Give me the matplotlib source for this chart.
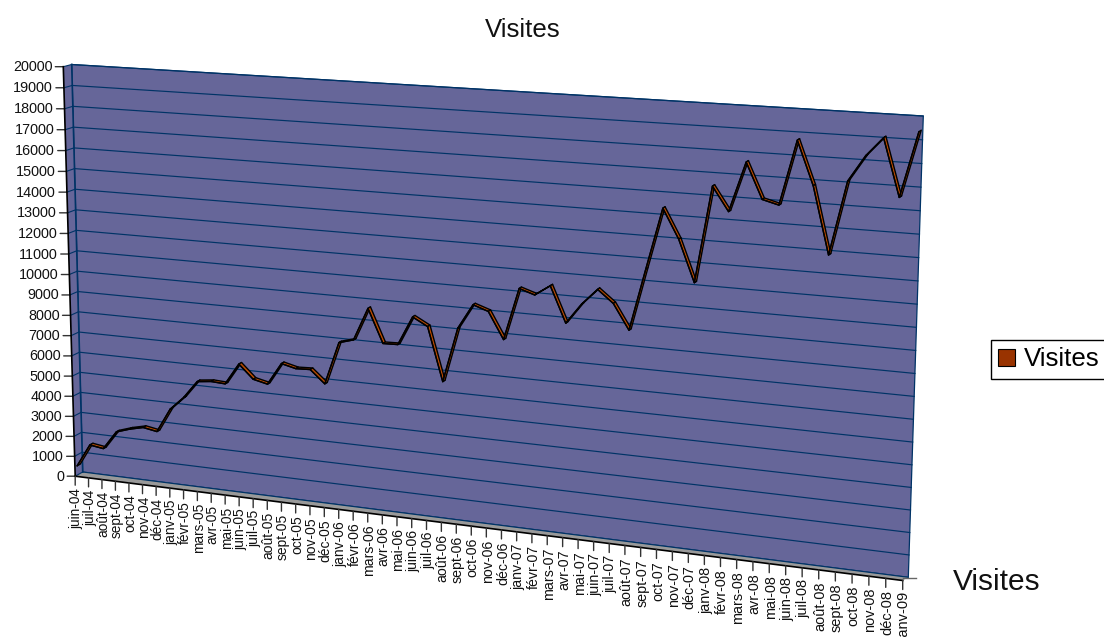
import numpy as np
import matplotlib
matplotlib.use('Agg')
import matplotlib.pyplot as plt
from matplotlib.collections import PolyCollection
from matplotlib.patches import Patch, Polygon
from matplotlib.transforms import Transform, IdentityTransform

plt.rcParams['font.family'] = ['Liberation Sans', 'DejaVu Sans']

months = ['juin-04','juil-04','août-04','sept-04','oct-04','nov-04','déc-04',
          'janv-05','févr-05','mars-05','avr-05','mai-05','juin-05','juil-05','août-05','sept-05','oct-05','nov-05','déc-05',
          'janv-06','févr-06','mars-06','avr-06','mai-06','juin-06','juil-06','août-06','sept-06','oct-06','nov-06','déc-06',
          'janv-07','févr-07','mars-07','avr-07','mai-07','juin-07','juil-07','août-07','sept-07','oct-07','nov-07','déc-07',
          'janv-08','févr-08','mars-08','avr-08','mai-08','juin-08','juil-08','août-08','sept-08','oct-08','nov-08','déc-08',
          'janv-09']
visites = [460,1590,1490,2400,2620,2780,2660,3840,4490,5340,
           5420,5380,6410,5750,5590,6650,6480,6510,5900,7930,
           8130,9680,8100,8120,9480,9100,6600,9160,10310,10070,
           8840,11250,11020,11500,9870,10800,11530,10960,9820,12630,
           15390,14080,12210,16520,15460,17670,16100,15910,18760,16850,
           13920,17160,18290,19100,16620,19450]
y_ticks = list(range(0, 20001, 1000))
title = 'Visites'
series_name = 'Visites'
WIDTH, HEIGHT = 1104, 637


def homography(src, dst):
    A, b = [], []
    for (x, y), (u, v) in zip(src, dst):
        A.append([x, y, 1, 0, 0, 0, -u*x, -u*y]); b.append(u)
        A.append([0, 0, 0, x, y, 1, -v*x, -v*y]); b.append(v)
    h = np.linalg.solve(np.array(A, float), np.array(b, float))
    return np.append(h, 1).reshape(3, 3)


class Plane(Transform):
    """Projects axes-unit coordinates onto a perspective plane of the 3D box."""
    input_dims = output_dims = 2
    is_separable = False
    has_inverse = False

    def __init__(self, corners):
        super().__init__()
        c = np.array(corners, float).copy()
        c[:, 1] = HEIGHT - c[:, 1]
        self.H = homography([(0, 0), (1, 0), (1, 1), (0, 1)], c)

    def transform_non_affine(self, values):
        v = np.asarray(values, float)
        p = np.c_[v, np.ones(len(v))] @ self.H.T
        return p[:, :2] / p[:, 2:3]


# corners in picture pixels: bottom-left, bottom-right, top-right, top-left
front_c = np.array([[75.2, 476.2], [902.7, 580.5], [917.7, 119.7], [63.3, 66.7]])
wall_c = np.array([[82.7, 472.0], [908.3, 577.3], [923.3, 116.0], [71.7, 64.5]])

fig = plt.figure(figsize=(WIDTH/100, HEIGHT/100), dpi=100, facecolor='white')
ax = fig.add_axes([0, 0, 1, 1])
ax.set_axis_off()
n = len(months)
ax.set_xlim(0, n - 1)
ax.set_ylim(0, 20000)


def plane(depth):
    return ax.transLimits + Plane(front_c + (wall_c - front_c) * depth)


T_front, T_wall = plane(0), plane(1)
T_a, T_m, T_b = plane(0.29), plane(0.5), plane(0.71)

WALL = '#666699'
GRID = '#003366'
FLOOR = '#999999'
xs = np.arange(n)
xmax, ymax = n - 1, 20000


def corners(T):
    return T.transform([(0, 0), (xmax, 0), (xmax, ymax), (0, ymax)])


fc, wc = corners(T_front), corners(T_wall)
id_t = IdentityTransform()
# back wall, side wall, floor
ax.add_patch(Polygon(wc, closed=True, fc=WALL, ec=GRID, lw=0.9, transform=id_t, zorder=1))
ax.add_patch(Polygon([fc[0], wc[0], wc[3], fc[3]], closed=True, fc=WALL, ec='none', transform=id_t, zorder=1))
ax.add_patch(Polygon([fc[0], fc[1], wc[1], wc[0]], closed=True, fc=FLOOR, ec='none', transform=id_t, zorder=1))

# grid lines
for v in y_ticks:
    ax.plot([0, xmax], [v, v], transform=T_wall, color=GRID, lw=0.85, clip_on=False, zorder=2)
    pf = T_front.transform([(0, v)])[0]
    pw = T_wall.transform([(0, v)])[0]
    ax.plot([pf[0], pw[0]], [pf[1], pw[1]], transform=id_t, color=GRID, lw=0.8, clip_on=False, zorder=2)
    ax.annotate('', xy=pf, xycoords='figure pixels', xytext=(pf[0] - 8, pf[1]), textcoords='figure pixels',
                arrowprops=dict(arrowstyle='-', color='#333333', lw=1.0, shrinkA=0, shrinkB=0), zorder=3)
    ax.annotate(str(v), xy=pf, xycoords='figure pixels', xytext=(pf[0] - 11, pf[1] - 0.5), textcoords='figure pixels',
                ha='right', va='center', fontsize=10.4, color='#111111')

# edges of the box
ax.plot([wc[0][0], wc[3][0]], [wc[0][1], wc[3][1]], transform=id_t, color=GRID, lw=1.2, clip_on=False, zorder=3)
ax.plot([fc[0][0], fc[3][0]], [fc[0][1], fc[3][1]], transform=id_t, color='black', lw=1.2, clip_on=False, zorder=3)
ax.plot([fc[0][0], fc[1][0]], [fc[0][1], fc[1][1]], transform=id_t, color='black', lw=1.2, clip_on=False, zorder=3)
ax.plot([fc[1][0], fc[1][0] + 13], [fc[1][1] + 3, fc[1][1] + 3], transform=id_t, color='#666666', lw=1.0, clip_on=False, zorder=3)

# x ticks and labels (the labels grow slightly with the perspective)
for i, lab in enumerate(months):
    p = T_front.transform([(i, 0)])[0]
    ax.annotate('', xy=p, xycoords='figure pixels', xytext=(p[0], p[1] - 9), textcoords='figure pixels',
                arrowprops=dict(arrowstyle='-', color='#333333', lw=1.0, shrinkA=0, shrinkB=0), zorder=3)
    ax.annotate(lab, xy=p, xycoords='figure pixels', xytext=(p[0] + 1.5, p[1] - 11.5), textcoords='figure pixels',
                rotation=90, ha='center', va='top', fontsize=9.8 + 0.7 * i / (n - 1), color='#111111', annotation_clip=False)

# the series: a thin ribbon in depth
a = T_a.transform(np.c_[xs, visites])
b = T_b.transform(np.c_[xs, visites])
quads = [[a[i], a[i+1], b[i+1], b[i]] for i in range(n - 1)]
ax.add_collection(PolyCollection(quads, facecolors='#B84A00', edgecolors='black', linewidths=1.0,
                                 transform=id_t, zorder=4), autolim=False)
ax.plot(xs, visites, transform=T_a, color='black', lw=1.0, clip_on=False, zorder=5, solid_joinstyle='round')

# title and captions
fig.text(523/WIDTH, 1 - 30/HEIGHT, title, ha='center', va='center', fontsize=18.6, color='#111111')
fig.text(953/WIDTH, 1 - 582/HEIGHT, series_name, ha='left', va='center', fontsize=21.5, color='#111111')

# legend
leg = fig.legend(handles=[Patch(facecolor='#993300', edgecolor='black', lw=0.8, label=series_name)],
                 loc='center left', bbox_to_anchor=(990.5/WIDTH, 1 - 359.5/HEIGHT), borderaxespad=0,
                 frameon=True, fancybox=False, edgecolor='black', framealpha=1, fontsize=18.6,
                 handlelength=0.65, handleheight=0.65, handletextpad=0.37, borderpad=0.28)
leg.get_frame().set_linewidth(1.0)

fig.savefig('out.png', dpi=100)
